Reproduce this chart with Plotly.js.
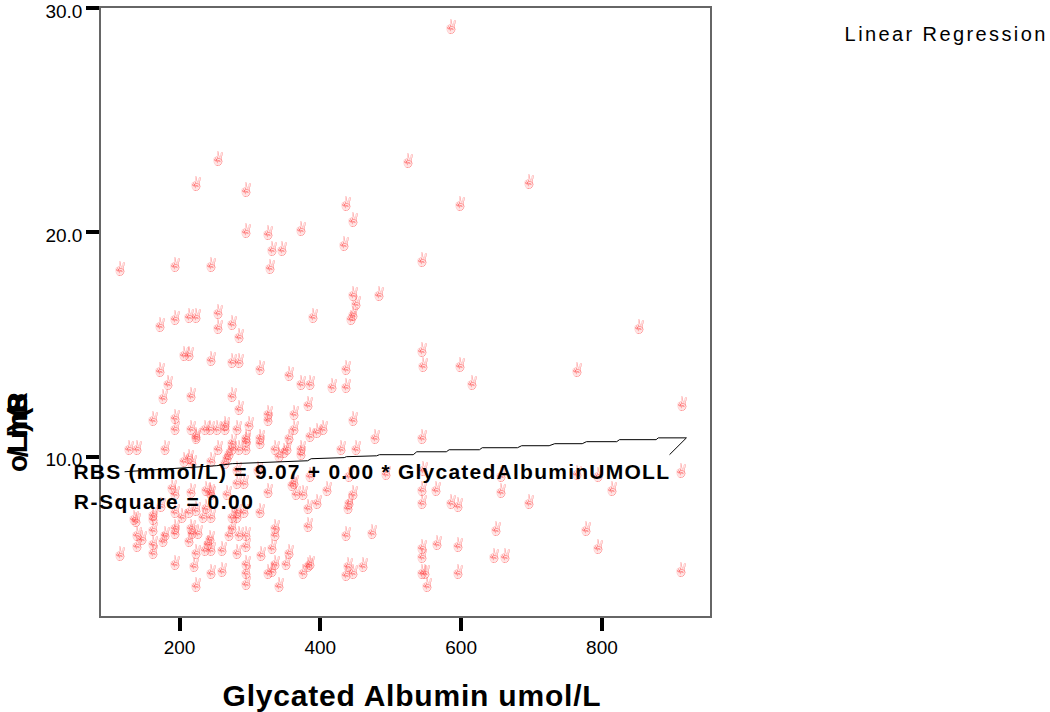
<!DOCTYPE html>
<html>
<head>
<meta charset="utf-8">
<script src="https://cdn.plot.ly/plotly-3.0.1.min.js"></script>
<style>
html,body{margin:0;padding:0;background:#fff}
g.ytick{transform:translateY(3px)}
.textpoint text{filter:url(#pinkHand);transform:translateY(1.5px)}
.annotation[data-index="0"] text{letter-spacing:1.25px}
.annotation[data-index="1"] text{letter-spacing:1.5px}
.annotation[data-index="2"] text{letter-spacing:2.4px}
.xtitle{letter-spacing:.8px}
</style>
</head>
<body>
<svg width="0" height="0" style="position:absolute">
  <filter id="pinkHand" x="-20%" y="-20%" width="140%" height="140%" color-interpolation-filters="sRGB">
    <feColorMatrix type="matrix" values="0 0 0 0 1  0 0 0 0 0.2  0 0 0 0 0.2  0 -2.6 0 0 2.25" result="tint"/>
    <feComposite in="tint" in2="SourceAlpha" operator="in"/>
  </filter>
</svg>
<div id="chart" style="width:1050px;height:712px"></div>
<script>
const albumin = [585,254,525,224,696,295,437,598,447,295,326,373,434,332,345,545,116,194,245,329,447,483,450,443,447,390,173,194,214,224,254,254,275,284,852,206,214,245,275,284,314,356,373,386,417,437,437,545,546,598,615,764,173,184,176,216,275,284,383,362,326,325,447,162,194,194,216,224,224,236,244,253,265,265,281,299,295,295,295,314,314,362,355,386,395,404,477,545,914,128,139,179,254,275,275,284,336,352,349,373,373,429,451,341,206,214,218,245,268,265,271,281,292,281,311,913,546,656,765,794,441,494,385,545,564,657,815,545,585,596,696,650,777,545,545,566,596,647,663,795,913,596,545,548,551,189,193,216,237,243,245,267,325,362,365,375,409,395,383,447,441,439,174,193,204,214,224,233,245,238,274,282,281,292,314,162,162,135,138,194,194,179,177,216,218,226,214,243,236,245,240,274,271,284,282,295,295,335,335,332,383,437,473,224,221,194,261,260,245,295,295,294,224,316,356,351,335,332,325,385,382,376,440,437,446,461,341,140,147,139,163,162,162,116,360];
const rbs = [29.2,23.3,23.2,22.2,22.3,21.9,21.3,21.3,20.6,20.1,20.0,20.2,19.5,19.3,19.3,18.8,18.4,18.6,18.6,18.5,17.3,17.3,16.9,16.2,16.4,16.3,15.9,16.2,16.3,16.3,16.5,15.8,16.0,15.4,15.8,14.6,14.6,14.4,14.3,14.3,14.0,13.7,13.3,13.3,13.2,13.2,14.0,14.8,14.1,14.1,13.3,13.9,13.9,13.3,12.7,12.8,12.8,12.2,12.4,12.0,12.0,11.7,11.7,11.7,11.8,11.3,11.3,11.0,10.9,11.3,11.3,11.3,11.5,11.3,11.3,11.5,10.9,10.8,10.4,10.9,10.7,11.3,10.9,11.0,11.2,11.3,10.9,10.9,12.4,10.4,10.4,10.4,10.4,10.7,10.4,10.4,10.4,10.4,10.3,10.4,10.2,10.4,10.4,10.1,9.9,10.0,9.8,9.9,10.0,9.8,10.2,8.9,8.9,9.5,9.5,9.4,9.5,9.2,9.3,9.2,9.2,9.3,9.2,8.6,8.6,8.5,8.6,8.0,8.0,7.9,8.0,6.8,6.8,6.0,5.6,6.2,6.1,5.6,5.6,6.0,5.0,4.9,4.9,4.9,4.3,8.7,8.4,8.5,8.6,8.5,8.4,8.4,8.5,8.9,8.4,8.4,8.6,8.0,7.8,8.4,8.0,7.8,7.9,7.6,7.4,7.6,7.7,7.4,7.4,7.8,7.4,7.4,7.6,7.6,7.6,7.5,7.3,7.3,7.2,6.9,6.7,6.6,6.3,6.9,6.7,6.7,6.3,6.4,5.9,5.9,6.2,6.9,6.6,6.6,5.8,6.6,6.1,6.9,6.6,6.0,7.0,6.6,6.7,5.8,5.2,5.3,5.9,5.0,4.9,5.3,4.9,4.4,4.3,5.7,5.8,5.3,5.3,5.0,4.9,5.3,5.2,4.9,5.2,4.8,4.9,5.2,4.3,6.6,6.4,6.1,6.2,5.8,6.8,5.7,8.8];
const fitX = [122,253,275,360,382,387,434,437,480,484,532,537,579,583,626,630,680,686,725,733,772,778,821,825,877,880,920,896];
const fitY = [9.33,9.6,9.69,9.78,9.82,9.91,9.96,10.0,10.04,10.09,10.09,10.22,10.22,10.31,10.31,10.4,10.4,10.49,10.49,10.58,10.58,10.67,10.67,10.76,10.76,10.84,10.84,10.09];
const xTicks = [200,400,600,800];
const xTickLabels = ['200','400','600','800'];
const yTicks = [10,20,30];
const yTickLabels = ['10.0','20.0','30.0'];
const xTitle = 'Glycated Albumin umol/L';
const yTitle = 'RBS (mmol/L)';
const equation = 'RBS (mmol/L) = 9.07 + 0.00 * GlycatedAlbuminUMOLL';
const rSquare = 'R-Square = 0.00';
const legendLabel = 'Linear Regression';
const pointGlyph = '\u270C\uFE0F';

const traces = [
  {type:'scatter',mode:'text',x:albumin,y:rbs,text:albumin.map(()=>pointGlyph),
   textposition:'middle center',textfont:{family:'Liberation Sans',size:13,color:'rgba(255,40,40,0.7)'},
   hoverinfo:'skip',showlegend:false},
  {type:'scatter',mode:'lines',x:fitX,y:fitY,line:{color:'#000',width:1},showlegend:false}
];
const px = v => (v-101)/609;
const py = v => (616-v)/608;
const layout = {
  width:1050,height:712,autosize:false,showlegend:false,
  paper_bgcolor:'#fff',plot_bgcolor:'#fff',
  margin:{l:101,r:340,t:8,b:96,pad:0},
  font:{family:'Liberation Sans, Arial, sans-serif',color:'#000'},
  xaxis:{range:[88.5,953.5],tickmode:'array',tickvals:xTicks,ticktext:xTickLabels,ticks:'outside',ticklen:13,tickwidth:4,tickcolor:'#000',
    showgrid:false,zeroline:false,showline:true,mirror:true,linecolor:'#666',linewidth:1.5,tickfont:{size:19},
    title:{text:xTitle,font:{size:30,weight:'bold'},standoff:28}},
  yaxis:{range:[2.9,30],tickmode:'array',tickvals:yTicks,ticktext:yTickLabels,ticks:'outside',ticklen:13,tickwidth:4,tickcolor:'#000',ticklabeloverflow:'allow',
    showgrid:false,zeroline:false,showline:true,mirror:true,linecolor:'#666',linewidth:1.5,tickfont:{size:19}},
  annotations:[
    {xref:'paper',yref:'paper',x:px(371.5),y:py(471),xanchor:'center',yanchor:'middle',showarrow:false,text:equation,font:{size:21,weight:'bold',color:'#000'}},
    {xref:'paper',yref:'paper',x:px(164),y:py(501),xanchor:'center',yanchor:'middle',showarrow:false,text:rSquare,font:{size:21,weight:'bold',color:'#000'}},
    {xref:'paper',yref:'paper',x:px(945.5),y:py(34),xanchor:'center',yanchor:'middle',showarrow:false,text:legendLabel,font:{size:20,color:'#000'}},
    {xref:'paper',yref:'paper',x:px(17),y:py(431),xanchor:'center',yanchor:'middle',showarrow:false,textangle:-90,text:yTitle,font:{size:28,weight:'bold',color:'#000'}}
  ]
};
// The reference's vertical title has collapsed letter spacing; each character sits at its own offset along the title.
const yTitleCharOffsets = [28,27,28,0,18,6,4,-33,-3,-23,-14,3];
Plotly.newPlot('chart',traces,layout,{displayModeBar:false,responsive:false}).then(()=>{
  const t = document.querySelector('.annotation[data-index="3"] text');
  const base = parseFloat(t.getAttribute('x'));
  t.setAttribute('text-anchor','middle');
  t.setAttribute('x',yTitleCharOffsets.map(o=>base+o).join(' '));
  const xt = document.querySelector('.xtitle');
  xt.setAttribute('x',parseFloat(xt.getAttribute('x'))+6.5);
});
</script>
</body>
</html>
